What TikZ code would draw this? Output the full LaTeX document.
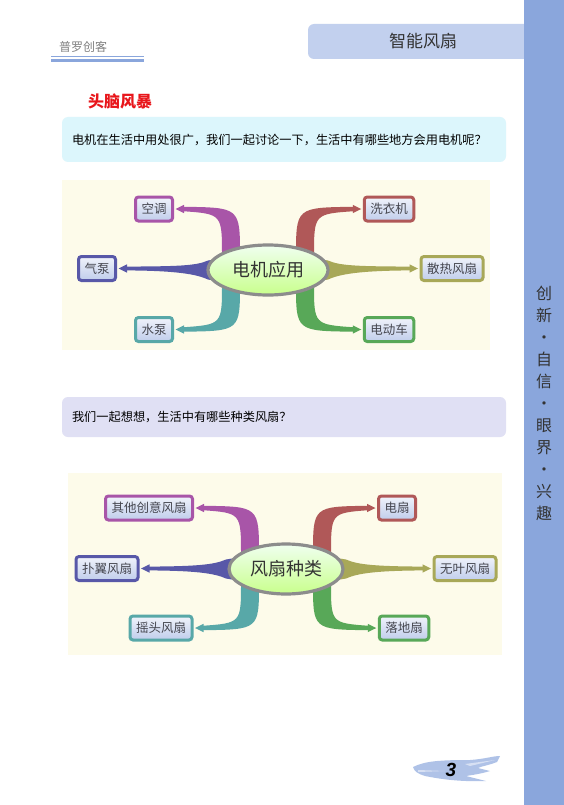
\documentclass[tikz,border=0pt]{standalone}
\usepackage{fontspec}
\setmainfont{Noto Sans CJK SC}
\newfontfamily\numfont{Liberation Sans}
\usetikzlibrary{calc,shapes.geometric}
\definecolor{barblue}{HTML}{8AA6DC}
\definecolor{tabblue}{HTML}{C2D0EE}
\definecolor{titlered}{HTML}{E8161B}
\definecolor{cyanbox}{HTML}{DCF6FC}
\definecolor{lavbox}{HTML}{E0E0F4}
\definecolor{mapbg}{HTML}{FDFBEA}
\definecolor{cpurple}{HTML}{A855A8}
\definecolor{cindigo}{HTML}{5858A8}
\definecolor{cteal}{HTML}{58A8A8}
\definecolor{cred}{HTML}{B05858}
\definecolor{colive}{HTML}{A8A858}
\definecolor{cgreen}{HTML}{58A858}
\definecolor{leaftext}{HTML}{45464F}
\definecolor{darktext}{HTML}{333333}
\definecolor{leaftop}{HTML}{F0F3FB}
\definecolor{leafbot}{HTML}{C0CDEB}
\pgfdeclarelayer{back}\pgfdeclarelayer{mid}\pgfsetlayers{back,mid,main}
% curved tapered branch: #1 colour, #2 centre node, #3 leaf anchor, #4 far dx, #5 near dx, #6 h (-1 left, +1 right), #7 v (+1 up, -1 down)
\newcommand\curvebr[7]{%
 \fill[#1] let \p1=(#2.center), \p2=(#3) in
  ({\x1+(#5)},{\y1+(#7)*14}) .. controls ({\x1+(#5)},{\y2+(#7)*1.5}) .. ({\x2-(#6)*9},{\y2+(#7)*2.2})
  -- ({\x2-(#6)*9},{\y2-(#7)*2.2}) .. controls ({\x1+(#4)},{\y2-(#7)*5}) .. ({\x1+(#4)},{\y1+(#7)*14}) -- cycle;
 \fill[#1] let \p2=(#3) in ({\x2-(#6)*1.5},{\y2}) -- ({\x2-(#6)*10},{\y2+4.2}) -- ({\x2-(#6)*10},{\y2-4.2}) -- cycle;
}
% straight tapered branch: #1 colour, #2 centre node, #3 leaf anchor, #4 h
\newcommand\straightbr[4]{%
 \fill[#1] let \p1=(#2.center), \p2=(#3) in
  ({\x1+(#4)*45},{\y1+12}) -- ({\x1+(#4)*60},{\y1+9.5}) .. controls ({\x1+(#4)*72},{\y1+4}) and ({\x1+(#4)*92},{\y2+2.2}) .. ({\x2-(#4)*9},{\y2+1.9})
  -- ({\x2-(#4)*9},{\y2-1.9}) .. controls ({\x1+(#4)*92},{\y2-2.2}) and ({\x1+(#4)*72},{\y1-4}) .. ({\x1+(#4)*60},{\y1-9.5}) -- ({\x1+(#4)*45},{\y1-12}) -- cycle;
 \fill[#1] let \p2=(#3) in ({\x2-(#4)*1.5},{\y2}) -- ({\x2-(#4)*10},{\y2+4.2}) -- ({\x2-(#4)*10},{\y2-4.2}) -- cycle;
}
\begin{document}
\begin{tikzpicture}[x=1pt,y=-1pt,
  leaf/.style={draw=#1, line width=3pt, rounded corners=3pt, top color=leaftop, bottom color=leafbot,
    text=leaftext, font=\fontsize{12.5}{14}\selectfont, inner xsep=6pt, inner ysep=0pt, minimum height=24pt},
  hub/.style={ellipse, draw=gray!90, line width=3.2pt, top color=green!6, bottom color=green!30!lime!45, text=darktext,
    font=\fontsize{18}{20}\selectfont, inner sep=0pt},
  qbox/.style={fill=#1, rounded corners=6pt, text width=424pt, align=left, inner xsep=10pt, minimum width=444pt,
    font=\fontsize{12.2}{14}\selectfont, text=black}
]
\useasboundingbox (0,0) rectangle (564,805);
\begin{pgfonlayer}{back}
\fill[white] (0,0) rectangle (564,805);
\fill[mapbg] (62,180) rectangle (490,350);
\fill[mapbg] (68,473) rectangle (502,655);
\end{pgfonlayer}

% header
\fill[tabblue, rounded corners=6pt] (308,24) rectangle (545,59);
\node[text=darktext, font=\fontsize{17}{19}\selectfont] (tabtitle) at (423,41) {智能风扇};
\fill[barblue] (524,0) rectangle (564,805);
\node[text=darktext, font=\fontsize{16}{22}\selectfont, align=center] (motto) at (544,403)
  {创\\新\\·\\自\\信\\·\\眼\\界\\·\\兴\\趣};
\node[text=gray, font=\fontsize{12}{14}\selectfont] (brand) at (83,47) {普罗创客};
\draw[barblue, line width=1pt] (51,56.5) -- (144,56.5);
\draw[barblue, line width=3pt] (51,60.5) -- (144,60.5);

\node[text=titlered, font=\fontsize{16}{18}\selectfont\bfseries] (brain) at (120,101) {头脑风暴};
\node[qbox=cyanbox, minimum height=45pt] (q1) at (284,139.5)
  {电机在生活中用处很广，我们一起讨论一下，生活中有哪些地方会用电机呢？};
\node[qbox=lavbox, minimum height=40pt] (q2) at (284,417)
  {我们一起想想，生活中有哪些种类风扇？};

% mind map 1
\node[hub, minimum width=120pt, minimum height=50pt] (c1) at (268,270) {电机应用};
\node[leaf=cpurple] (k1) at (154,209) {空调};
\node[leaf=cindigo] (k2) at (97,268.5) {气泵};
\node[leaf=cteal] (k3) at (154,329.5) {水泵};
\node[leaf=cred] (k4) at (389,209) {洗衣机};
\node[leaf=colive] (k5) at (452,268.5) {散热风扇};
\node[leaf=cgreen] (k6) at (389,329.5) {电动车};
\begin{pgfonlayer}{mid}
\curvebr{cpurple}{c1}{k1.east}{-46}{-28}{-1}{1}
\straightbr{cindigo}{c1}{k2.east}{-1}
\curvebr{cteal}{c1}{k3.east}{-46}{-28}{-1}{-1}
\curvebr{cred}{c1}{k4.west}{46}{28}{1}{1}
\straightbr{colive}{c1}{k5.west}{1}
\curvebr{cgreen}{c1}{k6.west}{46}{28}{1}{-1}
\end{pgfonlayer}

% mind map 2
\node[hub, minimum width=114pt, minimum height=50pt] (c2) at (286,569) {风扇种类};
\node[leaf=cpurple] (f1) at (149,508) {其他创意风扇};
\node[leaf=cindigo] (f2) at (107,568.5) {扑翼风扇};
\node[leaf=cteal] (f3) at (161,628) {摇头风扇};
\node[leaf=cred] (f4) at (397,508) {电扇};
\node[leaf=colive] (f5) at (465,568.5) {无叶风扇};
\node[leaf=cgreen] (f6) at (404,628) {落地扇};
\begin{pgfonlayer}{mid}
\curvebr{cpurple}{c2}{f1.east}{-45}{-27}{-1}{1}
\straightbr{cindigo}{c2}{f2.east}{-1}
\curvebr{cteal}{c2}{f3.east}{-45}{-27}{-1}{-1}
\curvebr{cred}{c2}{f4.west}{45}{27}{1}{1}
\straightbr{colive}{c2}{f5.west}{1}
\curvebr{cgreen}{c2}{f6.west}{45}{27}{1}{-1}
\end{pgfonlayer}

% page number with brush stroke
\fill[barblue!80, opacity=0.85] (413,767) .. controls (425,761) and (440,760) .. (470,760)
  .. controls (485,759) and (493,756) .. (500,756) -- (497,762) .. controls (490,765) and (482,766) .. (478,768)
  -- (490,771) .. controls (480,774) and (472,775) .. (466,776) -- (486,781)
  .. controls (460,782) and (440,779) .. (425,776) .. controls (418,774) and (414,771) .. (413,767) -- cycle;
\fill[white, opacity=0.5] (418,770) -- (445,771) -- (418,772) -- cycle;
\fill[white, opacity=0.5] (465,764) -- (495,760) -- (470,766) -- cycle;
\node[font=\numfont\fontsize{19}{21}\selectfont\bfseries\itshape, text=black] (pnum) at (451,770) {3};
\end{tikzpicture}
\end{document}
